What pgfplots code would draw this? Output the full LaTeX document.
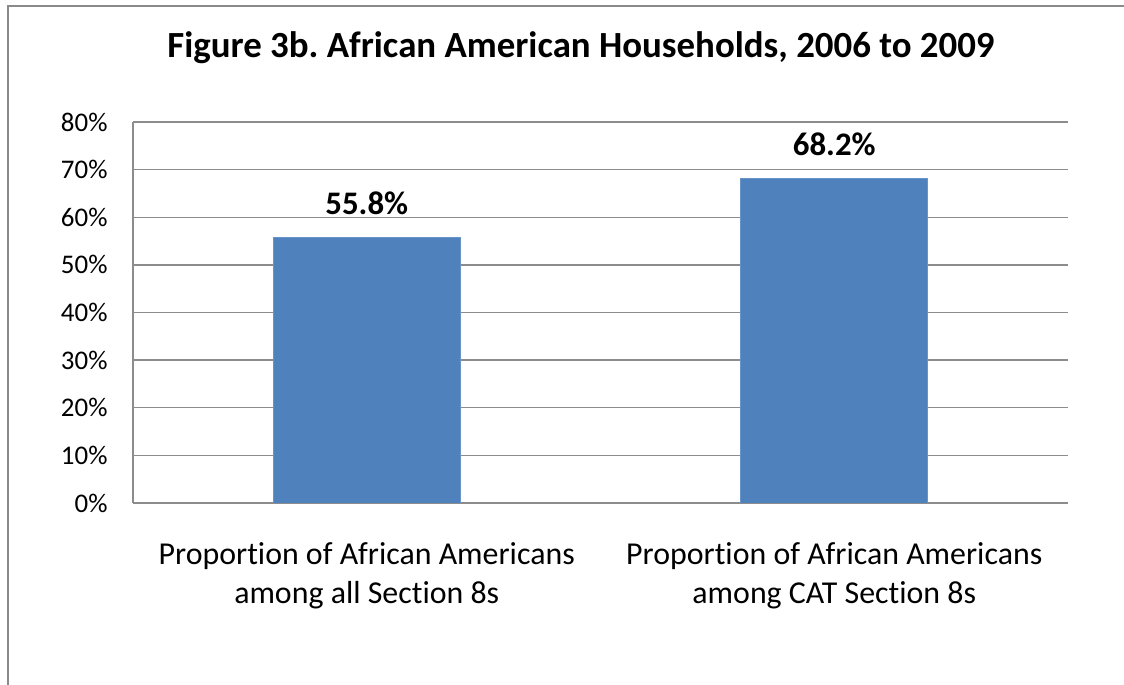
\documentclass[border=0pt]{standalone}
\usepackage{pgfplots}
\pgfplotsset{compat=1.18}
\usepackage{fontspec}
\setmainfont{Carlito}[Ligatures=NoCommon]
\frenchspacing
\definecolor{barblue}{HTML}{4F81BD}
\definecolor{gridgray}{HTML}{8C8C8C}
\definecolor{framegray}{HTML}{8A8A8A}
\begin{document}
\begin{tikzpicture}[x=1bp,y=1bp]
\useasboundingbox (0,0) rectangle (1124,685);
\draw[framegray, line width=2bp] (8,0) -- (8,679) -- (1124,679);
\node[font=\bfseries\fontsize{37}{44}\selectfont] at (581,637) {Figure 3b. African American Households, 2006 to 2009};
\begin{axis}[
  at={(133bp,182bp)}, anchor=south west,
  scale only axis, width=935bp, height=381bp,
  ymin=0, ymax=80, ytick={0,10,...,80},
  yticklabel={\pgfmathprintnumber{\tick}\%},
  xmin=-0.5, xmax=1.5, xtick=data,
  xticklabels={{Proportion of African Americans\\among all Section 8s},{Proportion of African Americans\\among CAT Section 8s}},
  xticklabel style={align=center, font=\fontsize{32}{39}\selectfont, yshift=-36bp},
  yticklabel style={font=\fontsize{27}{30}\selectfont, xshift=-22bp},
  /pgf/number format/assume math mode=true,
  axis x line*=bottom, axis y line*=left,
  axis line style={gridgray, line width=1.3bp},
  x axis line style={-}, y axis line style={-},
  ymajorgrids, major grid style={gridgray, line width=1.3bp},
  major tick length=0pt,
  ybar, bar width=187bp,
  nodes near coords={\pgfmathprintnumber[fixed, precision=1, fixed zerofill]{\pgfplotspointmeta}\%},
  nodes near coords style={font=\bfseries\fontsize{33}{36}\selectfont, yshift=19bp},
]
\addplot[fill=barblue, draw=barblue!85!white, line width=0.8bp] coordinates {(0,55.8) (1,68.2)};
\end{axis}
\end{tikzpicture}
\end{document}
